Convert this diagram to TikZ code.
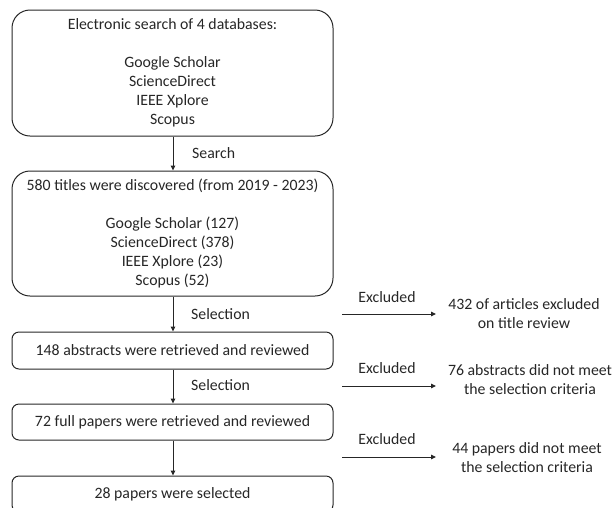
\documentclass[tikz,border=0pt]{standalone}
\usepackage{fontspec}
\setmainfont{Carlito}
\usetikzlibrary{arrows.meta}
\begin{document}
\begin{tikzpicture}[x=1pt,y=-1pt,
  every node/.style={font=\fontsize{15.8}{19}\selectfont, text=black!85},
  bigbox/.style={draw=black!85, line width=1pt, rounded corners=18pt, minimum width=321pt, align=center, inner sep=0pt},
  smallbox/.style={draw=black!85, line width=1pt, rounded corners=7pt, minimum width=321pt, align=center, inner sep=0pt},
  flow/.style={draw=black!85, line width=1pt, -{Triangle[length=5pt,width=4.5pt]}},
  lbl/.style={anchor=west, inner sep=0pt},
  note/.style={align=center, inner sep=0pt}]
\useasboundingbox (0,0) rectangle (615,507);
\node[bigbox, minimum height=126pt] (b1) at (172.5,73) {Electronic search of 4 databases:\\ ~\\ Google Scholar\\ ScienceDirect\\ IEEE Xplore\\ Scopus};
\node[bigbox, minimum height=125pt] (b2) at (172.5,233.5) {580 titles were discovered (from 2019 - 2023)\\ ~\\ Google Scholar (127)\\ ScienceDirect (378)\\ IEEE Xplore (23)\\ Scopus (52)};
\node[smallbox, minimum height=37pt] (b3) at (172.5,350.5) {148 abstracts were retrieved and reviewed};
\node[smallbox, minimum height=36pt] (b4) at (172.5,422) {72 full papers were retrieved and reviewed};
\node[smallbox, minimum height=36pt] (b5) at (172.5,494) {28 papers were selected};
\draw[flow] (b1.south -| 173,0) -- (b2.north -| 173,0);
\draw[flow] (b2.south -| 173,0) -- (b3.north -| 173,0);
\draw[flow] (b3.south -| 173,0) -- (b4.north -| 173,0);
\draw[flow] (b4.south -| 173,0) -- (b5.north -| 173,0);
\node[lbl] (l1) at (192,153) {Search};
\node[lbl] (l2) at (191,314) {Selection};
\node[lbl] (l3) at (191,385) {Selection};
\coordinate (a1s) at (342,314); \coordinate (a1e) at (436,314);
\coordinate (a2s) at (342,386); \coordinate (a2e) at (436,386);
\coordinate (a3s) at (342,457); \coordinate (a3e) at (436,457);
\draw[flow] (a1s) -- (a1e);
\draw[flow] (a2s) -- (a2e);
\draw[flow] (a3s) -- (a3e);
\node (e1) at (387,297) {Excluded};
\node (e2) at (387,368) {Excluded};
\node (e3) at (387,439) {Excluded};
\node[note] (n1) at (524,313.5) {432 of articles excluded\\ on title review};
\node[note] (n2) at (530,380) {76 abstracts did not meet\\ the selection criteria};
\node[note] (n3) at (527,457.5) {44 papers did not meet\\ the selection criteria};
\end{tikzpicture}
\end{document}
